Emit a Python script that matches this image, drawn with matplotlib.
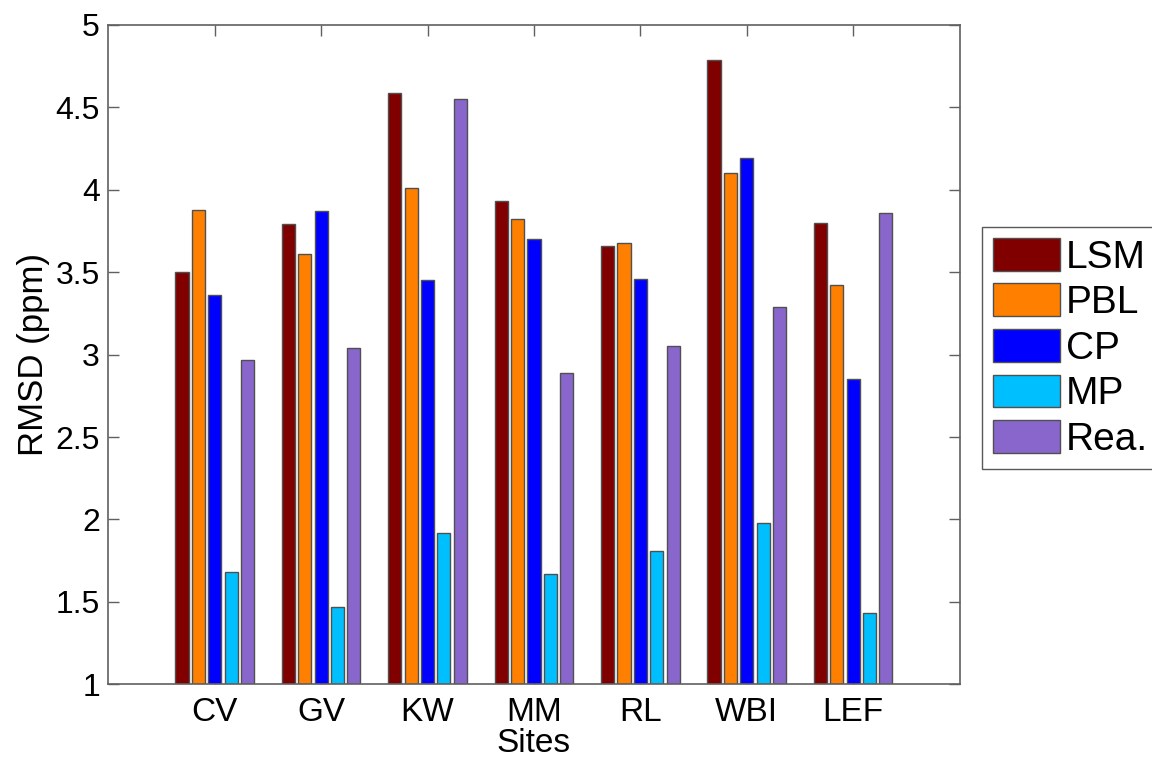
import numpy as np
import matplotlib
matplotlib.use("Agg")
from matplotlib import pyplot as plt

plt.rcParams['font.family'] = ['Liberation Sans', 'DejaVu Sans']

sites = ["CV", "GV", "KW", "MM", "RL", "WBI", "LEF"]
series = ["LSM", "PBL", "CP", "MP", "Rea."]
lsm = [3.50, 3.79, 4.59, 3.93, 3.66, 4.79, 3.80]
pbl = [3.88, 3.61, 4.01, 3.82, 3.68, 4.10, 3.42]
cp = [3.36, 3.87, 3.45, 3.70, 3.46, 4.19, 2.85]
mp = [1.68, 1.47, 1.92, 1.67, 1.81, 1.98, 1.43]
rea = [2.97, 3.04, 4.55, 2.89, 3.05, 3.29, 3.86]
colors = ['#800000', '#ff8000', '#0000ff', '#00bfff', '#8866cc']

data = [lsm, pbl, cp, mp, rea]

fig = plt.figure(figsize=(11.52, 7.57), dpi=100)
ax = fig.add_axes([0.094, 0.096, 0.739, 0.871])
ax.set_axisbelow(True)

x = np.arange(1, len(sites) + 1)
n = len(series)
step = (n / (n + 1.5)) / n
bw = step * 0.8
for i, (vals, c, lab) in enumerate(zip(data, colors, series)):
    offs = (i - (n - 1) / 2) * step
    ax.bar(x + offs, np.array(vals) - 1, bottom=1, width=bw, color=c,
           edgecolor='#505050', linewidth=1.0, label=lab)

ax.set_xlim(0, 8)
ax.set_ylim(1, 5)
ax.set_xticks(x)
ax.set_xticklabels(sites)
ax.set_yticks([1, 1.5, 2, 2.5, 3, 3.5, 4, 4.5, 5])
ax.set_yticklabels(['1', '1.5', '2', '2.5', '3', '3.5', '4', '4.5', '5'])
ax.tick_params(direction='in', length=8, width=1, color='#606060',
               top=True, right=True, labelsize=23)
ax.tick_params(axis='y', pad=6)
ax.tick_params(axis='x', pad=9, labelsize=24)
for s in ax.spines.values():
    s.set_color('#606060')
    s.set_linewidth(1.2)

ax.set_xlabel("Sites", fontsize=24, labelpad=0)
ax.set_ylabel("RMSD (ppm)", fontsize=25, labelpad=4)

leg = fig.legend(loc='upper left', bbox_to_anchor=(982 / 1152, 1 - 227 / 757),
                 fontsize=28, frameon=True, fancybox=False, shadow=False,
                 handlelength=1.72, handleheight=0.92, handletextpad=0.15,
                 labelspacing=0.2, borderpad=0.28, borderaxespad=0)
leg.get_frame().set_edgecolor('#303030')
leg.get_frame().set_linewidth(1.0)

fig.savefig("out.png", dpi=100)
